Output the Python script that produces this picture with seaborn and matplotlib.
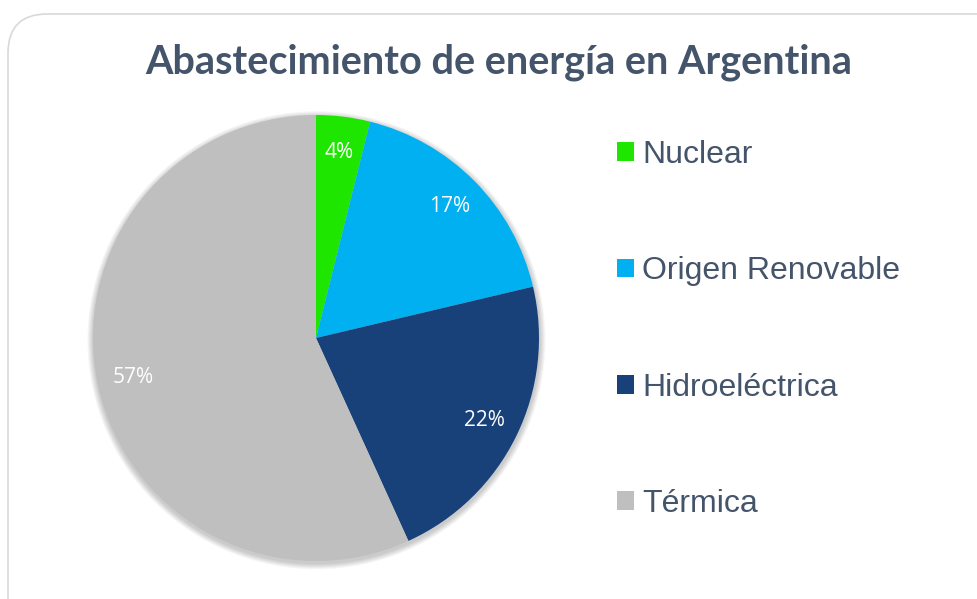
import matplotlib
matplotlib.use("Agg")
import matplotlib.pyplot as plt
import seaborn as sns
from matplotlib.patches import FancyBboxPatch, Patch, Circle

categories = ["Nuclear", "Origen Renovable", "Hidroeléctrica", "Térmica"]
values = [3.9, 17.4, 21.9, 56.8]
colors = ["#1FE600", "#00B0F0", "#18417A", "#BFBFBF"]
title = "Abastecimiento de energía en Argentina"

sns.set_theme(style="white")
plt.rcParams["font.family"] = ["Lato", "DejaVu Sans"]

W, H = 978, 599
fig = plt.figure(figsize=(W / 100, H / 100), dpi=100)
fig.patch.set_facecolor("white")

# rounded border
border = FancyBboxPatch((8 / W, -40 / H), (W + 40) / W, (H + 40 - 14) / H,
                        boxstyle="round,pad=0,rounding_size=0.04",
                        transform=fig.transFigure, facecolor="white",
                        edgecolor="#D9D9D9", linewidth=1.2, zorder=-10,
                        mutation_aspect=W / H)
fig.patches.append(border)

cx, cy, r = 316, H - 338, 223
ax = fig.add_axes([(cx - r) / W, (cy - r) / H, 2 * r / W, 2 * r / H])
ax.set_facecolor("none")
ax.set_zorder(5)

# soft shadow
for k in range(6, 0, -1):
    ax.add_patch(Circle((0.002, -0.010), 1 + k * 0.0045, facecolor="black",
                        alpha=0.035, edgecolor="none", zorder=0, clip_on=False))

wedges, texts, autotexts = ax.pie(
    values, colors=colors, startangle=90, counterclock=False,
    autopct=lambda p: f"{p:.0f}%", pctdistance=0.84, radius=1,
    wedgeprops=dict(linewidth=0, zorder=2),
    textprops=dict(color="white", fontsize=15, family=["Open Sans", "DejaVu Sans"]),
)
for t in autotexts:
    t.set_zorder(3)
ax.set_xlim(-1, 1)
ax.set_ylim(-1, 1)
ax.set_aspect("equal")
ax.axis("off")

fig.text(499 / W, 1 - 62 / H, title, ha="center", va="center",
         fontsize=28.5, fontweight="bold", color="#44546A",
         family=["Lato", "DejaVu Sans"])

handles = [Patch(facecolor=c, edgecolor="none") for c in colors]
leg = fig.legend(handles, categories, loc="upper left",
                 bbox_to_anchor=(617 / W, 1 - 140 / H), frameon=False,
                 prop=dict(family=["Liberation Sans", "DejaVu Sans"], size=23),
                 labelcolor="#44546A", handlelength=0.53, handleheight=0.53,
                 handletextpad=0.25, labelspacing=2.7, borderaxespad=0,
                 borderpad=0)

fig.savefig("out.png", dpi=100)
